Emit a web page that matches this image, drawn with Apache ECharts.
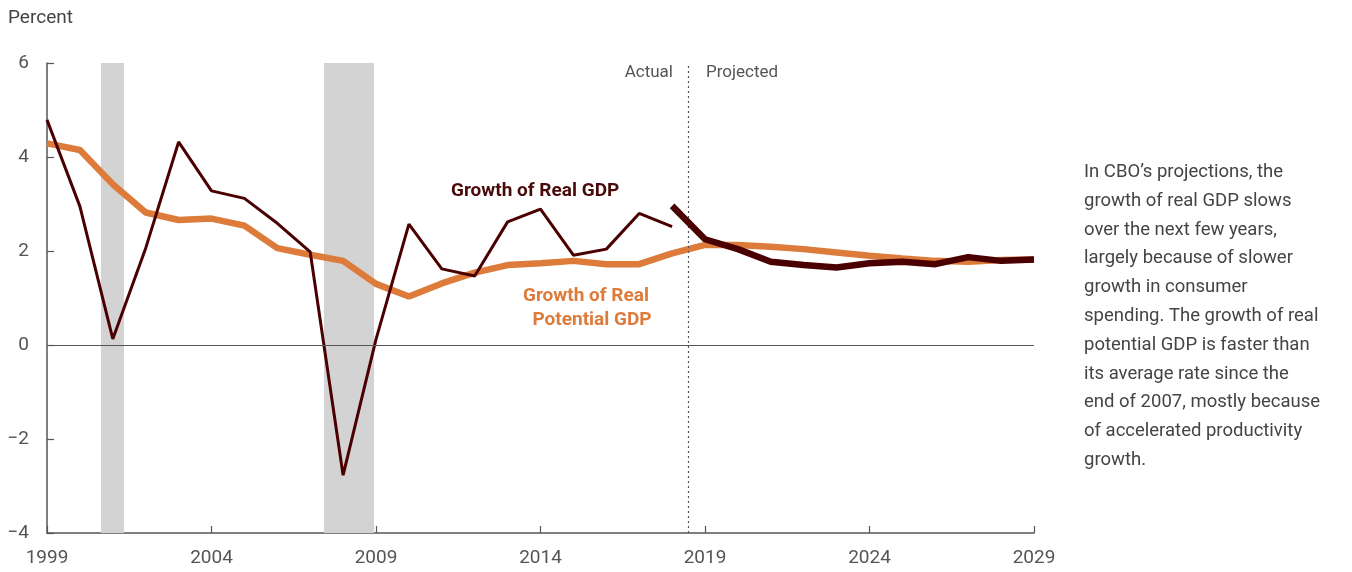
<!DOCTYPE html>
<html>
<head>
<meta charset="utf-8">
<script src="https://cdn.jsdelivr.net/npm/echarts@6/dist/echarts.min.js"></script>
<style>
html,body{margin:0;padding:0;background:#fff;}
#c{width:1352px;height:572px;}
</style>
</head>
<body>
<div id="c"></div>
<script>
var years = [1999,2000,2001,2002,2003,2004,2005,2006,2007,2008,2009,2010,2011,2012,2013,2014,2015,2016,2017,2018,2019,2020,2021,2022,2023,2024,2025,2026,2027,2028,2029];
var actualYears = [1999,2000,2001,2002,2003,2004,2005,2006,2007,2008,2009,2010,2011,2012,2013,2014,2015,2016,2017,2018];
var realGdpActual = [4.79,2.95,0.13,2.06,4.32,3.28,3.12,2.59,1.98,-2.77,0.12,2.57,1.62,1.47,2.62,2.89,1.91,2.04,2.80,2.52];
var projYears = [2018,2019,2020,2021,2022,2023,2024,2025,2026,2027,2028,2029];
var realGdpProjected = [2.96,2.25,2.04,1.77,1.70,1.65,1.74,1.77,1.72,1.87,1.79,1.82];
var potentialGdp = [4.29,4.15,3.42,2.82,2.66,2.69,2.54,2.06,1.92,1.79,1.30,1.03,1.31,1.54,1.70,1.74,1.79,1.72,1.72,1.95,2.13,2.13,2.09,2.04,1.97,1.90,1.84,1.79,1.77,1.81,1.82];
var recessions = [[2000.64,2001.34],[2007.42,2008.94]];
var actualProjectedSplit = 2018.5;
var yTicks = [-4,-2,0,2,4,6];
var xTicks = [1999,2004,2009,2014,2019,2024,2029];

function pairs(xs, ys){ return xs.map(function(x,i){ return [x, ys[i]]; }); }

var FONT = 'Roboto, "Liberation Sans", sans-serif';
var chart = echarts.init(document.getElementById('c'));
var note = ['In CBO\u2019s projections, the','growth of real GDP slows','over the next few years,','largely because of slower','growth in consumer','spending. The growth of real','potential GDP is faster than','its average rate since the','end of 2007, mostly because','of accelerated productivity','growth.'];

chart.setOption({
  animation:false,
  backgroundColor:'#fff',
  grid:{left:47,right:318,top:63,bottom:39,containLabel:false},
  xAxis:{type:'value',min:1999,max:2029,interval:5,
    axisLine:{show:true,onZero:false,lineStyle:{color:'#555',width:1.5}},
    axisTick:{show:true,inside:true,length:7,lineStyle:{color:'#555',width:1.2}},
    axisLabel:{color:'#555',fontSize:19,fontFamily:FONT,margin:16,formatter:function(v){return String(v);}},
    splitLine:{show:false}},
  yAxis:{type:'value',min:-4,max:6,interval:2,
    axisLine:{show:true,lineStyle:{color:'#555',width:1.5}},
    axisTick:{show:true,inside:true,length:7,lineStyle:{color:'#555',width:1.2}},
    axisLabel:{color:'#555',fontSize:19,fontFamily:FONT,margin:18,formatter:function(v){return String(v).replace('-','\u2212');}},
    splitLine:{show:false}},
  series:[
    {type:'line',name:'bands',data:[],silent:true,
      markArea:{silent:true,itemStyle:{color:'#d3d3d3'},
        data:recessions.map(function(r){return [{xAxis:r[0]},{xAxis:r[1]}];})},
      markLine:{silent:true,symbol:'none',label:{show:false},
        data:[
          {yAxis:0,lineStyle:{color:'#555',width:1.2,type:'solid'}},
          {xAxis:actualProjectedSplit,lineStyle:{color:'#555',width:1.2,type:[2,3]}}
        ]}},
    {type:'line',name:'Potential',data:pairs(years,potentialGdp),showSymbol:false,
      lineStyle:{color:'#dd7b3b',width:6.5},z:3},
    {type:'line',name:'Actual',data:pairs(actualYears,realGdpActual),showSymbol:false,
      lineStyle:{color:'#4a0000',width:3},z:4},
    {type:'line',name:'Projected',data:pairs(projYears,realGdpProjected),showSymbol:false,
      lineStyle:{color:'#4a0000',width:6.5},z:5}
  ],
  graphic:[
    {type:'text',left:8,top:9,style:{text:'Percent',fill:'#444',font:'19px '+FONT}},
    {type:'text',right:1352-673,top:64,style:{text:'Actual',fill:'#555',font:'17px '+FONT,textAlign:'right'}},
    {type:'text',left:706,top:64,style:{text:'Projected',fill:'#555',font:'17px '+FONT}},
    {type:'text',left:451,top:182,style:{text:'Growth of Real GDP',fill:'#4a0a0a',font:'bold 19px '+FONT}},
    {type:'text',left:523,top:284,style:{text:'Growth of Real\n  Potential GDP',fill:'#dd7b3b',font:'bold 19px '+FONT,lineHeight:24}},
    {type:'text',left:1084,top:158,style:{text:note.join('\n'),fill:'#444',font:'18.5px '+FONT,lineHeight:28.8}}
  ]
});
</script>
</body>
</html>
